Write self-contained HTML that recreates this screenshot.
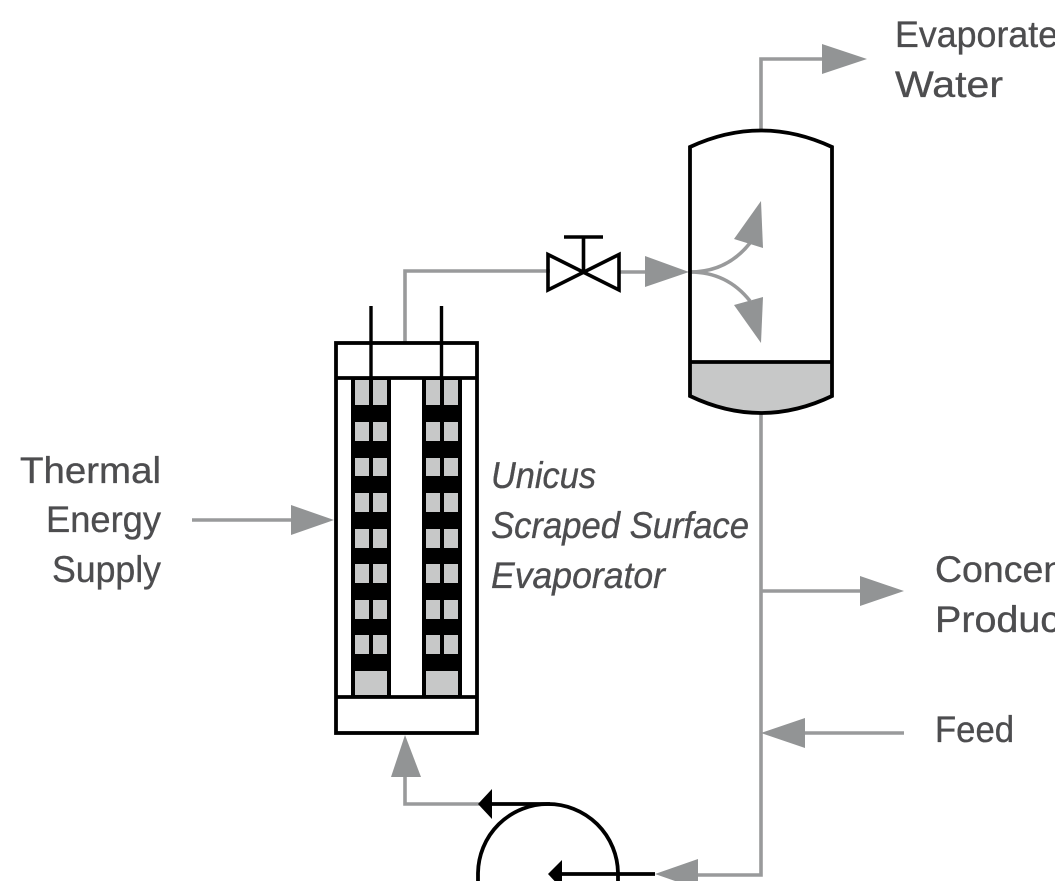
<!DOCTYPE html>
<html><head><meta charset="utf-8"><style>
html,body{margin:0;padding:0;background:#fff;width:1055px;height:881px;overflow:hidden}
svg{display:block}
text{font-family:"Liberation Sans",sans-serif;font-size:37px;fill:#4d4d4f;stroke:#4d4d4f;stroke-width:.35px}
.i{font-style:italic}
</style></head><body>
<svg width="1055" height="881" viewBox="0 0 1055 881" xmlns="http://www.w3.org/2000/svg">
<!-- gray lines -->
<g fill="none" stroke="#999a9b" stroke-width="3.6">
<path d="M761 130V59H825"/>
<path d="M405 343V271H550"/>
<path d="M618 272H648"/>
<path d="M690 272C715 272 735 262 750 243"/>
<path d="M690 272C715 272 735 282 750 301"/>
<path d="M761 413V875H690"/>
<path d="M761 591H862"/>
<path d="M904 733H800"/>
<path d="M192 520H293"/>
<path d="M480 804H405V772"/>
</g>
<!-- gray heads -->
<g fill="#929495">
<path d="M822 44V74L867 59Z"/>
<path d="M645 256V287L689 272Z"/>
<path d="M761 201L734 239L763 248Z"/>
<path d="M761 343L734 305L763 297Z"/>
<path d="M860 576V606L904 591Z"/>
<path d="M805 718V748L761 733Z"/>
<path d="M291 505V535L334 520Z"/>
<path d="M405 735L391 777H421Z"/>
<path d="M655 874L698 859V889Z"/>
</g>
<!-- evaporator -->
<rect x="351" y="378" width="40" height="318" fill="#000"/>
<rect x="422" y="378" width="40" height="318" fill="#000"/>
<g fill="#c7c8c8">
<rect x="355" y="380" width="14" height="25"/><rect x="373" y="380" width="14" height="25"/>
<rect x="426" y="380" width="14" height="25"/><rect x="444" y="380" width="14" height="25"/>
<rect x="355" y="422" width="14" height="19"/><rect x="373" y="422" width="14" height="19"/>
<rect x="426" y="422" width="14" height="19"/><rect x="444" y="422" width="14" height="19"/>
<rect x="355" y="458" width="14" height="18"/><rect x="373" y="458" width="14" height="18"/>
<rect x="426" y="458" width="14" height="18"/><rect x="444" y="458" width="14" height="18"/>
<rect x="355" y="493" width="14" height="19"/><rect x="373" y="493" width="14" height="19"/>
<rect x="426" y="493" width="14" height="19"/><rect x="444" y="493" width="14" height="19"/>
<rect x="355" y="529" width="14" height="19"/><rect x="373" y="529" width="14" height="19"/>
<rect x="426" y="529" width="14" height="19"/><rect x="444" y="529" width="14" height="19"/>
<rect x="355" y="564" width="14" height="19"/><rect x="373" y="564" width="14" height="19"/>
<rect x="426" y="564" width="14" height="19"/><rect x="444" y="564" width="14" height="19"/>
<rect x="355" y="600" width="14" height="19"/><rect x="373" y="600" width="14" height="19"/>
<rect x="426" y="600" width="14" height="19"/><rect x="444" y="600" width="14" height="19"/>
<rect x="355" y="635" width="14" height="19"/><rect x="373" y="635" width="14" height="19"/>
<rect x="426" y="635" width="14" height="19"/><rect x="444" y="635" width="14" height="19"/>
<rect x="355" y="671" width="32" height="24"/><rect x="426" y="671" width="32" height="24"/>
</g>
<g fill="none" stroke="#000" stroke-width="3.8">
<rect x="336" y="343" width="141" height="390"/>
<path d="M336 378H477M336 697H477"/>
<path d="M371 306V380M441.500 306V380" stroke-width="3.4"/>
</g>
<!-- vessel -->
<path d="M690 362H832V396Q761 431 690 396Z" fill="#c7c8c8"/>
<g fill="none" stroke="#000" stroke-width="3.8">
<path d="M690 396V147Q761 114 832 147V396Q761 430 690 396Z"/>
<path d="M690 362H832"/>
</g>
<!-- valve -->
<g fill="none" stroke="#000" stroke-width="3.6" stroke-linejoin="miter">
<path d="M548 254.500V290L619 254.500V290Z"/>
<path d="M583.500 272V237M564 237H603"/>
</g>
<!-- pump -->
<g fill="none" stroke="#000" stroke-width="3.800">
<path d="M478 881V873A70 70 0 0 1 548 804A70 70 0 0 1 618 873V881"/>
<path d="M490 804H550"/>
<path d="M560 874H655"/>
</g>
<path d="M478 804L492 789V819Z" fill="#000"/>
<path d="M548 874L562 860V889Z" fill="#000"/>
<!-- text -->
<text x="895" y="47" textLength="183" lengthAdjust="spacingAndGlyphs">Evaporated</text>
<text x="895" y="97" textLength="108" lengthAdjust="spacingAndGlyphs">Water</text>
<text x="20" y="483" textLength="141" lengthAdjust="spacingAndGlyphs">Thermal</text>
<text x="46" y="532" textLength="115" lengthAdjust="spacingAndGlyphs">Energy</text>
<text x="52" y="582" textLength="109" lengthAdjust="spacingAndGlyphs">Supply</text>
<text class="i" x="491" y="488" textLength="105" lengthAdjust="spacingAndGlyphs">Unicus</text>
<text class="i" x="491" y="538" textLength="258" lengthAdjust="spacingAndGlyphs">Scraped Surface</text>
<text class="i" x="491" y="588" textLength="174" lengthAdjust="spacingAndGlyphs">Evaporator</text>
<text x="935" y="582" textLength="225" lengthAdjust="spacingAndGlyphs">Concentrated</text>
<text x="935" y="632" textLength="136" lengthAdjust="spacingAndGlyphs">Product</text>
<text x="935" y="742" textLength="79" lengthAdjust="spacingAndGlyphs">Feed</text>
</svg>
</body></html>
